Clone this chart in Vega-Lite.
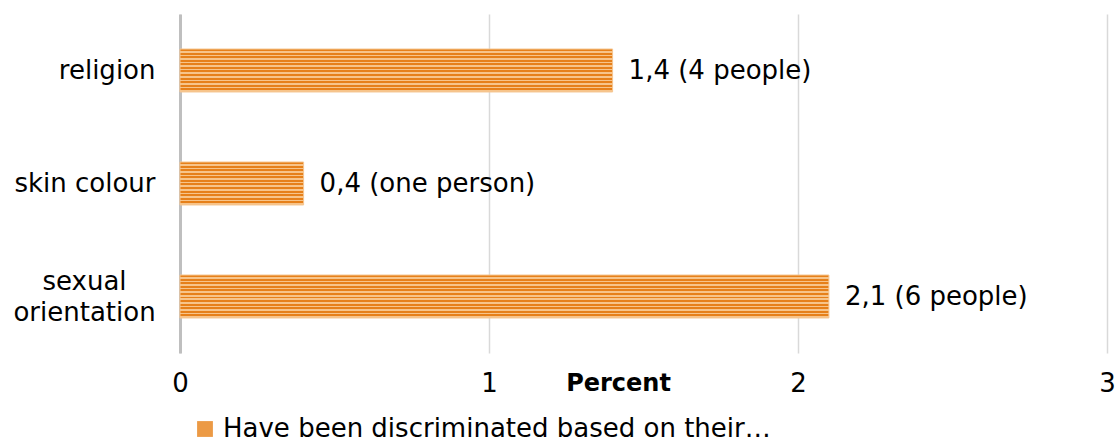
{
  "$schema": "https://vega.github.io/schema/vega-lite/v6.json",
  "width": 927,
  "height": 339,
  "autosize": {"type": "none"},
  "padding": {"left": 180, "top": 14, "right": 11, "bottom": 90},
  "config": {"view": {"stroke": null}, "font": "DejaVu Sans"},
  "data": {"values": [
    {"group": "religion", "value": 1.4, "label": "1,4 (4 people)", "series": "Have been discriminated based on their…"},
    {"group": "skin colour", "value": 0.4, "label": "0,4 (one person)", "series": "Have been discriminated based on their…"},
    {"group": "sexual orientation", "value": 2.1, "label": "2,1 (6 people)", "series": "Have been discriminated based on their…"}
  ]},
  "encoding": {
    "y": {"field": "group", "type": "nominal", "sort": null,
      "scale": {"paddingInner": 0.62, "paddingOuter": 0.31},
      "axis": {"title": null, "ticks": false, "domain": true, "domainColor": "#BFBFBF", "domainWidth": 3,
        "labelFont": "DejaVu Sans", "labelFontSize": 26, "labelColor": "#000000",
        "labelPadding": {"condition": {"test": "datum.value == 'sexual orientation'", "value": 96}, "value": 25},
        "labelAlign": {"condition": {"test": "datum.value == 'sexual orientation'", "value": "center"}, "value": "right"},
        "labelOffset": {"condition": {"test": "datum.value == 'sexual orientation'", "value": -15}, "value": 0},
        "labelExpr": "datum.value == 'sexual orientation' ? ['sexual', 'orientation'] : datum.value",
        "labelLineHeight": 31, "labelLimit": 300}},
    "x": {"field": "value", "type": "quantitative", "scale": {"domain": [0, 3], "nice": false},
      "axis": {"values": [0, 1, 2, 3], "title": "Percent", "ticks": false, "domain": false, "labelFlush": false,
        "grid": true, "gridColor": "#D9D9D9", "gridWidth": 1.5,
        "labelFont": "DejaVu Sans", "labelFontSize": 26, "labelColor": "#000000", "labelPadding": 17,
        "labelExpr": "format(datum.value, 'd')",
        "titleFont": "DejaVu Sans", "titleFontSize": 24, "titleFontWeight": "bold", "titleColor": "#000000",
        "titleX": 438, "titleY": 30, "titleAnchor": null, "titleAlign": "center", "titleBaseline": "middle"}}
  },
  "layer": [
    {"mark": {"type": "bar", "stroke": "#F5C590", "strokeWidth": 1,
       "fill": {"gradient": "linear", "x1": 0, "y1": 0, "x2": 0, "y2": 1, "stops": [
         {"offset": 0, "color": "#E6801A"}, {"offset": 0.045, "color": "#E6801A"}, {"offset": 0.045, "color": "#F7C48A"}, {"offset": 0.0833, "color": "#F7C48A"},
         {"offset": 0.0833, "color": "#E6801A"}, {"offset": 0.1283, "color": "#E6801A"}, {"offset": 0.1283, "color": "#F7C48A"}, {"offset": 0.1667, "color": "#F7C48A"},
         {"offset": 0.1667, "color": "#E6801A"}, {"offset": 0.2117, "color": "#E6801A"}, {"offset": 0.2117, "color": "#F7C48A"}, {"offset": 0.25, "color": "#F7C48A"},
         {"offset": 0.25, "color": "#E6801A"}, {"offset": 0.295, "color": "#E6801A"}, {"offset": 0.295, "color": "#F7C48A"}, {"offset": 0.3333, "color": "#F7C48A"},
         {"offset": 0.3333, "color": "#E6801A"}, {"offset": 0.3783, "color": "#E6801A"}, {"offset": 0.3783, "color": "#F7C48A"}, {"offset": 0.4167, "color": "#F7C48A"},
         {"offset": 0.4167, "color": "#E6801A"}, {"offset": 0.4617, "color": "#E6801A"}, {"offset": 0.4617, "color": "#F7C48A"}, {"offset": 0.5, "color": "#F7C48A"},
         {"offset": 0.5, "color": "#E6801A"}, {"offset": 0.545, "color": "#E6801A"}, {"offset": 0.545, "color": "#F7C48A"}, {"offset": 0.5833, "color": "#F7C48A"},
         {"offset": 0.5833, "color": "#E6801A"}, {"offset": 0.6283, "color": "#E6801A"}, {"offset": 0.6283, "color": "#F7C48A"}, {"offset": 0.6667, "color": "#F7C48A"},
         {"offset": 0.6667, "color": "#E6801A"}, {"offset": 0.7117, "color": "#E6801A"}, {"offset": 0.7117, "color": "#F7C48A"}, {"offset": 0.75, "color": "#F7C48A"},
         {"offset": 0.75, "color": "#E6801A"}, {"offset": 0.795, "color": "#E6801A"}, {"offset": 0.795, "color": "#F7C48A"}, {"offset": 0.8333, "color": "#F7C48A"},
         {"offset": 0.8333, "color": "#E6801A"}, {"offset": 0.8783, "color": "#E6801A"}, {"offset": 0.8783, "color": "#F7C48A"}, {"offset": 0.9167, "color": "#F7C48A"},
         {"offset": 0.9167, "color": "#E6801A"}, {"offset": 0.9617, "color": "#E6801A"}, {"offset": 0.9617, "color": "#F7C48A"}, {"offset": 1, "color": "#F7C48A"}
       ]}}},
    {"mark": {"type": "point", "filled": true, "size": 0, "opacity": 1},
     "encoding": {"color": {"field": "series", "type": "nominal", "scale": {"range": ["#EC9A45"]},
       "legend": {"title": null, "orient": "none", "legendX": 12, "legendY": 402, "symbolType": "square", "symbolSize": 250,
         "symbolStrokeWidth": 0, "symbolOpacity": 1, "labelFont": "DejaVu Sans", "labelFontSize": 26, "labelColor": "#000000", "labelLimit": 800, "labelOffset": 5}}}},
    {"mark": {"type": "text", "align": "left", "baseline": "middle", "dx": 16, "fontSize": 26, "font": "DejaVu Sans", "color": "#000000"},
     "encoding": {"text": {"field": "label"}}}
  ]
}
